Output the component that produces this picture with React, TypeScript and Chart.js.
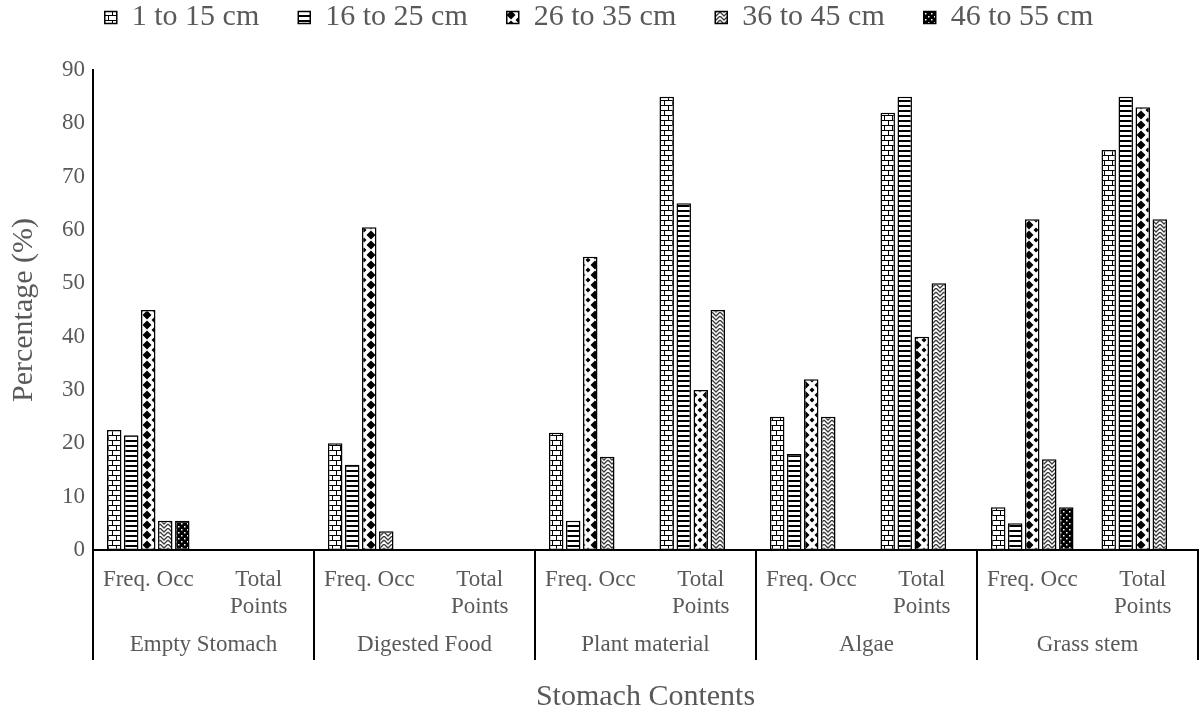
import { useEffect, useRef } from 'react';
import { Chart, registerables } from 'chart.js';

Chart.register(...registerables);

// ---------- data ----------
const groups = ['Empty Stomach', 'Digested Food', 'Plant material', 'Algae', 'Grass stem'];
const measures: (string | string[])[] = ['Freq. Occ', ['Total', 'Points']];
const sizeClasses = ['1 to 15 cm', '16 to 25 cm', '26 to 35 cm', '36 to 45 cm', '46 to 55 cm'];

// order: Empty(Freq, Total), Digested(Freq, Total), Plant(Freq, Total), Algae(Freq, Total), Grass(Freq, Total)
const cm1to15 = [22.5, null, 20, null, 22, 85, 25, 82, 8, 75];
const cm16to25 = [21.5, null, 16, null, 5.5, 65, 18, 85, 5, 85];
const cm26to35 = [45, null, 60.5, null, 55, 30, 32, 40, 62, 83];
const cm36to45 = [5.5, null, 3.5, null, 17.5, 45, 25, 50, 17, 62];
const cm46to55 = [5.5, null, null, null, null, null, null, null, 8, null];
const seriesValues = [cm1to15, cm16to25, cm26to35, cm36to45, cm46to55];

const yMin = 0;
const yMax = 90;
const yStep = 10;

const yTitle = 'Percentage (%)';
const xTitle = 'Stomach Contents';

// ---------- styling ----------
const FONT = "'Liberation Serif', 'Times New Roman', serif";
const TEXT = '#595959';

function makePattern(w: number, h: number, draw: (g: CanvasRenderingContext2D) => void) {
  const c = document.createElement('canvas');
  c.width = w;
  c.height = h;
  const g = c.getContext('2d')!;
  draw(g);
  return g.createPattern(c, 'repeat')!;
}

function buildPatterns() {
  const brick = makePattern(8, 10, (g) => {
    g.fillStyle = '#fff';
    g.fillRect(0, 0, 8, 10);
    g.fillStyle = '#000';
    g.fillRect(0, 0, 8, 1);
    g.fillRect(0, 5, 8, 1);
    g.fillRect(0, 0, 1, 5);
    g.fillRect(4, 5, 1, 5);
  });
  const stripes = makePattern(4, 5, (g) => {
    g.fillStyle = '#fff';
    g.fillRect(0, 0, 4, 5);
    g.fillStyle = '#000';
    g.fillRect(0, 0, 4, 2);
  });
  const diamonds = makePattern(14, 10, (g) => {
    g.fillStyle = '#fff';
    g.fillRect(0, 0, 14, 10);
    g.fillStyle = '#000';
    const d = (cx: number, cy: number, r: number) => {
      g.beginPath();
      g.moveTo(cx, cy - r);
      g.lineTo(cx + r, cy);
      g.lineTo(cx, cy + r);
      g.lineTo(cx - r, cy);
      g.closePath();
      g.fill();
    };
    d(7, 5, 4.5);
    d(0, 0, 2.5);
    d(14, 0, 2.5);
    d(0, 10, 2.5);
    d(14, 10, 2.5);
  });
  const zigzag = makePattern(8, 8, (g) => {
    g.fillStyle = '#fff';
    g.fillRect(0, 0, 8, 8);
    g.strokeStyle = '#3a3a3a';
    g.lineWidth = 1.3;
    for (const y0 of [-4, 0, 4]) {
      g.beginPath();
      g.moveTo(0, y0);
      g.lineTo(4, y0 + 4);
      g.lineTo(8, y0);
      g.stroke();
    }
  });
  const dots = makePattern(6, 6, (g) => {
    g.fillStyle = '#000';
    g.fillRect(0, 0, 6, 6);
    g.fillStyle = '#fff';
    g.fillRect(1, 1, 1.5, 1.5);
    g.fillRect(4, 4, 1.5, 1.5);
  });
  return [brick, stripes, diamonds, zigzag, dots];
}

const LEGEND_PAD = 39;
const LEGEND_FONT = 30;
const LEGEND_CENTER_Y = 17.5;

const legendShift = {
  id: 'legendShift',
  beforeDraw(chart: any) {
    const lg = chart.legend;
    if (lg) {
      const h = lg.height;
      lg.top = LEGEND_CENTER_Y - LEGEND_PAD - LEGEND_FONT / 2;
      lg.bottom = lg.top + h;
    }
  },
};

const groupAxis = {
  id: 'groupAxis',
  afterDraw(chart: any) {
    const x = chart.scales.x;
    const ctx = chart.ctx;
    const top = x.top;
    ctx.save();
    // separators
    const bounds: number[] = [x.left];
    for (let g = 1; g < groups.length; g++) {
      bounds.push((x.getPixelForValue(2 * g - 1) + x.getPixelForValue(2 * g)) / 2);
    }
    bounds.push(x.right);
    ctx.strokeStyle = '#000';
    ctx.lineWidth = 2;
    for (const b of bounds) {
      ctx.beginPath();
      ctx.moveTo(b, top - 1);
      ctx.lineTo(b, 660);
      ctx.stroke();
    }
    // group labels
    ctx.fillStyle = TEXT;
    ctx.font = `23px ${FONT}`;
    ctx.textAlign = 'center';
    ctx.textBaseline = 'middle';
    groups.forEach((name, g) => {
      const cx = (x.getPixelForValue(2 * g) + x.getPixelForValue(2 * g + 1)) / 2;
      ctx.fillText(name, cx, 645);
    });
    ctx.restore();
  },
};

export default function App() {
  const ref = useRef<HTMLCanvasElement | null>(null);

  useEffect(() => {
    document.body.style.margin = '0';
    const canvas = ref.current!;
    const patterns = buildPatterns();
    const labels = groups.flatMap(() => measures);

    const chart = new Chart(canvas, {
      type: 'bar',
      data: {
        labels,
        datasets: sizeClasses.map((name, i) => ({
          label: name,
          data: seriesValues[i],
          backgroundColor: patterns[i],
          borderColor: '#000',
          borderWidth: 1.5,
          borderSkipped: false,
          categoryPercentage: 0.77,
          barPercentage: 0.85,
        })),
      },
      options: {
        responsive: false,
        animation: false,
        layout: { padding: { left: 0, right: 3, top: 0, bottom: 0 } },
        plugins: {
          legend: {
            position: 'top',
            maxHeight: 70,
            labels: {
              font: { family: FONT, size: LEGEND_FONT },
              color: TEXT,
              boxWidth: 12,
              boxHeight: 12,
              padding: LEGEND_PAD,
            },
          },
          tooltip: { enabled: false },
        },
        scales: {
          x: {
            type: 'category',
            grid: { display: false, drawTicks: false },
            border: { display: true, color: '#000', width: 2 },
            ticks: {
              font: { family: FONT, size: 23, lineHeight: 1.15 },
              color: TEXT,
              padding: 17,
              maxRotation: 0,
              autoSkip: false,
            },
            title: {
              display: true,
              text: xTitle,
              font: { family: FONT, size: 30, lineHeight: 1.2 },
              color: TEXT,
              padding: { top: 0, bottom: 0 },
            },
            afterFit: (s: any) => {
              s.height = 165;
            },
          },
          y: {
            min: yMin,
            max: yMax,
            grid: { display: false, drawTicks: false },
            border: { display: true, color: '#000', width: 2 },
            ticks: {
              stepSize: yStep,
              font: { family: FONT, size: 23 },
              color: TEXT,
              padding: 8,
            },
            title: {
              display: true,
              text: yTitle,
              font: { family: FONT, size: 30, lineHeight: 1.2 },
              color: TEXT,
              padding: { top: 6, bottom: 0 },
            },
            afterFit: (s: any) => {
              s.width = 93;
            },
          },
        },
      },
      plugins: [legendShift, groupAxis],
    });
    return () => chart.destroy();
  }, []);

  return (
    <div style={{ width: 1201, height: 715, overflow: 'hidden' }}>
      <canvas ref={ref} width={1201} height={715} style={{ display: 'block' }} />
    </div>
  );
}
